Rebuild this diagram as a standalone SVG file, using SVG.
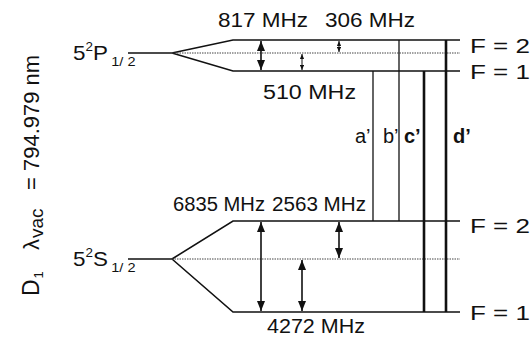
<svg xmlns="http://www.w3.org/2000/svg" width="532" height="338" viewBox="0 0 532 338">
<style>
text{font-family:"Liberation Sans",Arial,sans-serif;font-size:20px;fill:#111}
.lvl{stroke:#111;stroke-width:1.6;fill:none}
.dot{stroke:#444;stroke-width:1;stroke-dasharray:1.5 1;fill:none}
.tr{stroke:#111;stroke-width:1.3;fill:none}
.trb{stroke:#111;stroke-width:2.6;fill:none}
.arr{stroke:#111;stroke-width:1.6;fill:none;marker-start:url(#ah);marker-end:url(#ah)}
.arrs{stroke:#111;stroke-width:1;fill:none;marker-start:url(#as);marker-end:url(#as)}
.b{font-weight:bold}
</style>
<defs>
<marker id="ah" viewBox="0 0 10 8" refX="10" refY="4" markerWidth="10" markerHeight="8" markerUnits="userSpaceOnUse" orient="auto-start-reverse"><path d="M0,0L10,4L0,8z" fill="#111"/></marker>
<marker id="as" viewBox="0 0 6 5" refX="6" refY="2.5" markerWidth="5" markerHeight="4.5" markerUnits="userSpaceOnUse" orient="auto-start-reverse"><path d="M0,0L6,2.5L0,5z" fill="#111"/></marker>
</defs>
<g id="title" transform="translate(39,296) rotate(-90)">
<text x="0" y="0" style="font-size:23px">D<tspan style="font-size:13px" dx="1" dy="4">1</tspan></text>
<text x="46" y="0" style="font-size:22px">λ<tspan style="font-size:19px" dx="1" dy="4">vac</tspan></text>
<text x="106" y="0" style="font-size:22px">= 794.979 nm</text>
</g>
<g id="P12">
<g transform="translate(73,60) scale(1.12,1)"><text x="0" y="0">5<tspan style="font-size:12px" dy="-9">2</tspan><tspan dy="9">P</tspan><tspan style="font-size:13px" dx="3" dy="6">1/ 2</tspan></text></g>
<path class="lvl" d="M128,53H172M172,53L233,40H460M172,53L233,71H460"/>
<path class="dot" d="M172,53H460"/>
<text x="470" y="53" textLength="60" lengthAdjust="spacingAndGlyphs">F = 2</text>
<text x="470" y="79" textLength="60" lengthAdjust="spacingAndGlyphs">F = 1</text>
</g>
<g id="S12">
<g transform="translate(73,266) scale(1.12,1)"><text x="0" y="0">5<tspan style="font-size:12px" dy="-9">2</tspan><tspan dy="9">S</tspan><tspan style="font-size:13px" dx="3" dy="6">1/ 2</tspan></text></g>
<path class="lvl" d="M128,259H172M172,259L233,221H460M172,259L233,312H460"/>
<path class="dot" d="M172,259H460"/>
<text x="470" y="233" textLength="60" lengthAdjust="spacingAndGlyphs">F = 2</text>
<text x="470" y="320" textLength="60" lengthAdjust="spacingAndGlyphs">F = 1</text>
</g>
<g id="labels">
<text x="218" y="27" textLength="90" lengthAdjust="spacingAndGlyphs">817 MHz</text>
<text x="325" y="27" textLength="90" lengthAdjust="spacingAndGlyphs">306 MHz</text>
<text x="263" y="99" textLength="93" lengthAdjust="spacingAndGlyphs">510 MHz</text>
<text x="173" y="211" textLength="92" lengthAdjust="spacingAndGlyphs">6835 MHz</text>
<text x="272" y="211" textLength="94" lengthAdjust="spacingAndGlyphs">2563 MHz</text>
<text x="267" y="333" textLength="98" lengthAdjust="spacingAndGlyphs">4272 MHz</text>
<text x="355" y="143">a’</text>
<text x="383" y="143">b’</text>
<text x="404" y="143" class="b">c’</text>
<text x="453" y="143" class="b">d’</text>
</g>
<g id="connectors">
<path class="arr" d="M261,41V70"/>
<path class="arrs" d="M339,41V52"/>
<path class="arrs" d="M302,54V70"/>
<path class="arr" d="M261,222V311"/>
<path class="arr" d="M339,222V258"/>
<path class="arr" d="M302,260V311"/>
<path class="tr" d="M373,71V221"/>
<path class="tr" d="M399,40V221"/>
<path class="trb" d="M424,71V312"/>
<path class="trb" d="M446,40V312"/>
</g>
</svg>
